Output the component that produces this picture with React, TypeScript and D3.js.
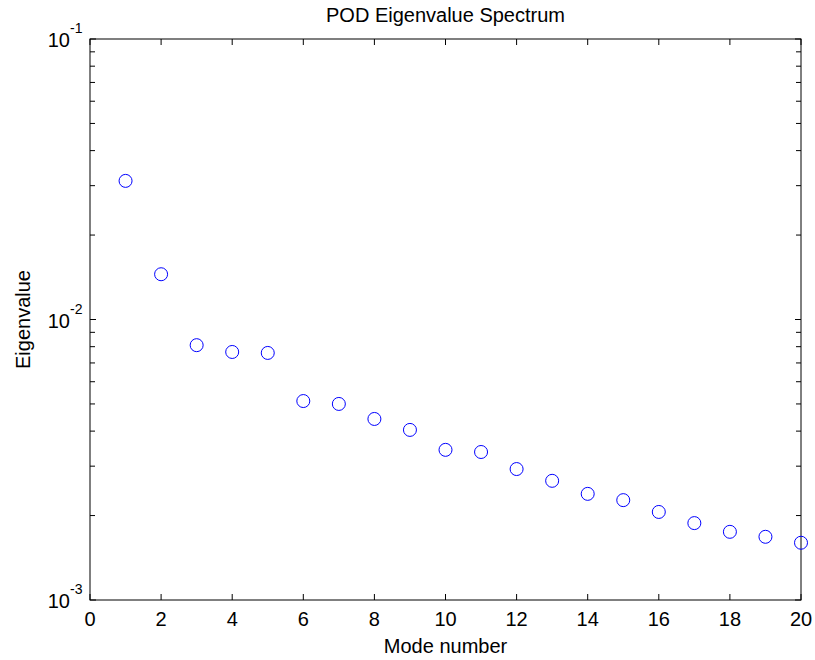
import React from "react";
import * as d3 from "d3";

const modes = [1,2,3,4,5,6,7,8,9,10,11,12,13,14,15,16,17,18,19,20];
const eigenvalues = [0.0312,0.0145,0.0081,0.00766,0.0076,0.00512,0.0050,0.00442,0.00404,0.00343,0.00337,0.00293,0.00266,0.00239,0.00227,0.00206,0.00188,0.00175,0.00168,0.0016];
const xTicks = [0,2,4,6,8,10,12,14,16,18,20];
const yDecades = [-3,-2,-1];

const W = 815, H = 660;
const L = 90, R = 801, T = 39, B = 600;

export default function App() {
  const x = d3.scaleLinear().domain([0, 20]).range([L, R]);
  const y = d3.scaleLog().domain([1e-3, 1e-1]).range([B, T]);
  const minor: number[] = [];
  for (const d of [-3, -2]) for (let m = 2; m <= 9; m++) minor.push(m * Math.pow(10, d));
  const font = "Liberation Sans, Arial, sans-serif";
  return (
    <svg width={W} height={H} style={{ position: "absolute", left: 0, top: 0 }} fontFamily={font}>
      <rect width={W} height={H} fill="#fff" />
      <rect x={L} y={T} width={R - L} height={B - T} fill="#fff" stroke="#000" strokeWidth={1} />
      {xTicks.map((t) => (
        <g key={"x" + t}>
          <line x1={x(t)} x2={x(t)} y1={B} y2={B - 6} stroke="#000" />
          <line x1={x(t)} x2={x(t)} y1={T} y2={T + 6} stroke="#000" />
          <text x={x(t)} y={B + 26} textAnchor="middle" fontSize={20}>{t}</text>
        </g>
      ))}
      {yDecades.map((d) => (
        <g key={"y" + d}>
          <line x1={L} x2={L + 6} y1={y(Math.pow(10, d))} y2={y(Math.pow(10, d))} stroke="#000" />
          <line x1={R} x2={R - 6} y1={y(Math.pow(10, d))} y2={y(Math.pow(10, d))} stroke="#000" />
          <text x={70} y={y(Math.pow(10, d)) + 8} textAnchor="end" fontSize={20}>10</text>
          <text x={70} y={y(Math.pow(10, d)) - 6} textAnchor="start" fontSize={14}>{d}</text>
        </g>
      ))}
      {minor.map((v, i) => (
        <g key={"m" + i}>
          <line x1={L} x2={L + 5} y1={y(v)} y2={y(v)} stroke="#000" />
          <line x1={R} x2={R - 5} y1={y(v)} y2={y(v)} stroke="#000" />
        </g>
      ))}
      {modes.map((m, i) => (
        <circle key={"p" + i} cx={x(m)} cy={y(eigenvalues[i])} r={6.5} fill="none" stroke="#0000ff" strokeWidth={1} />
      ))}
      <text x={(L + R) / 2} y={22} textAnchor="middle" fontSize={20}>POD Eigenvalue Spectrum</text>
      <text x={(L + R) / 2} y={653} textAnchor="middle" fontSize={20}>Mode number</text>
      <text transform={`translate(30,${(T + B) / 2}) rotate(-90)`} textAnchor="middle" fontSize={20}>Eigenvalue</text>
    </svg>
  );
}
